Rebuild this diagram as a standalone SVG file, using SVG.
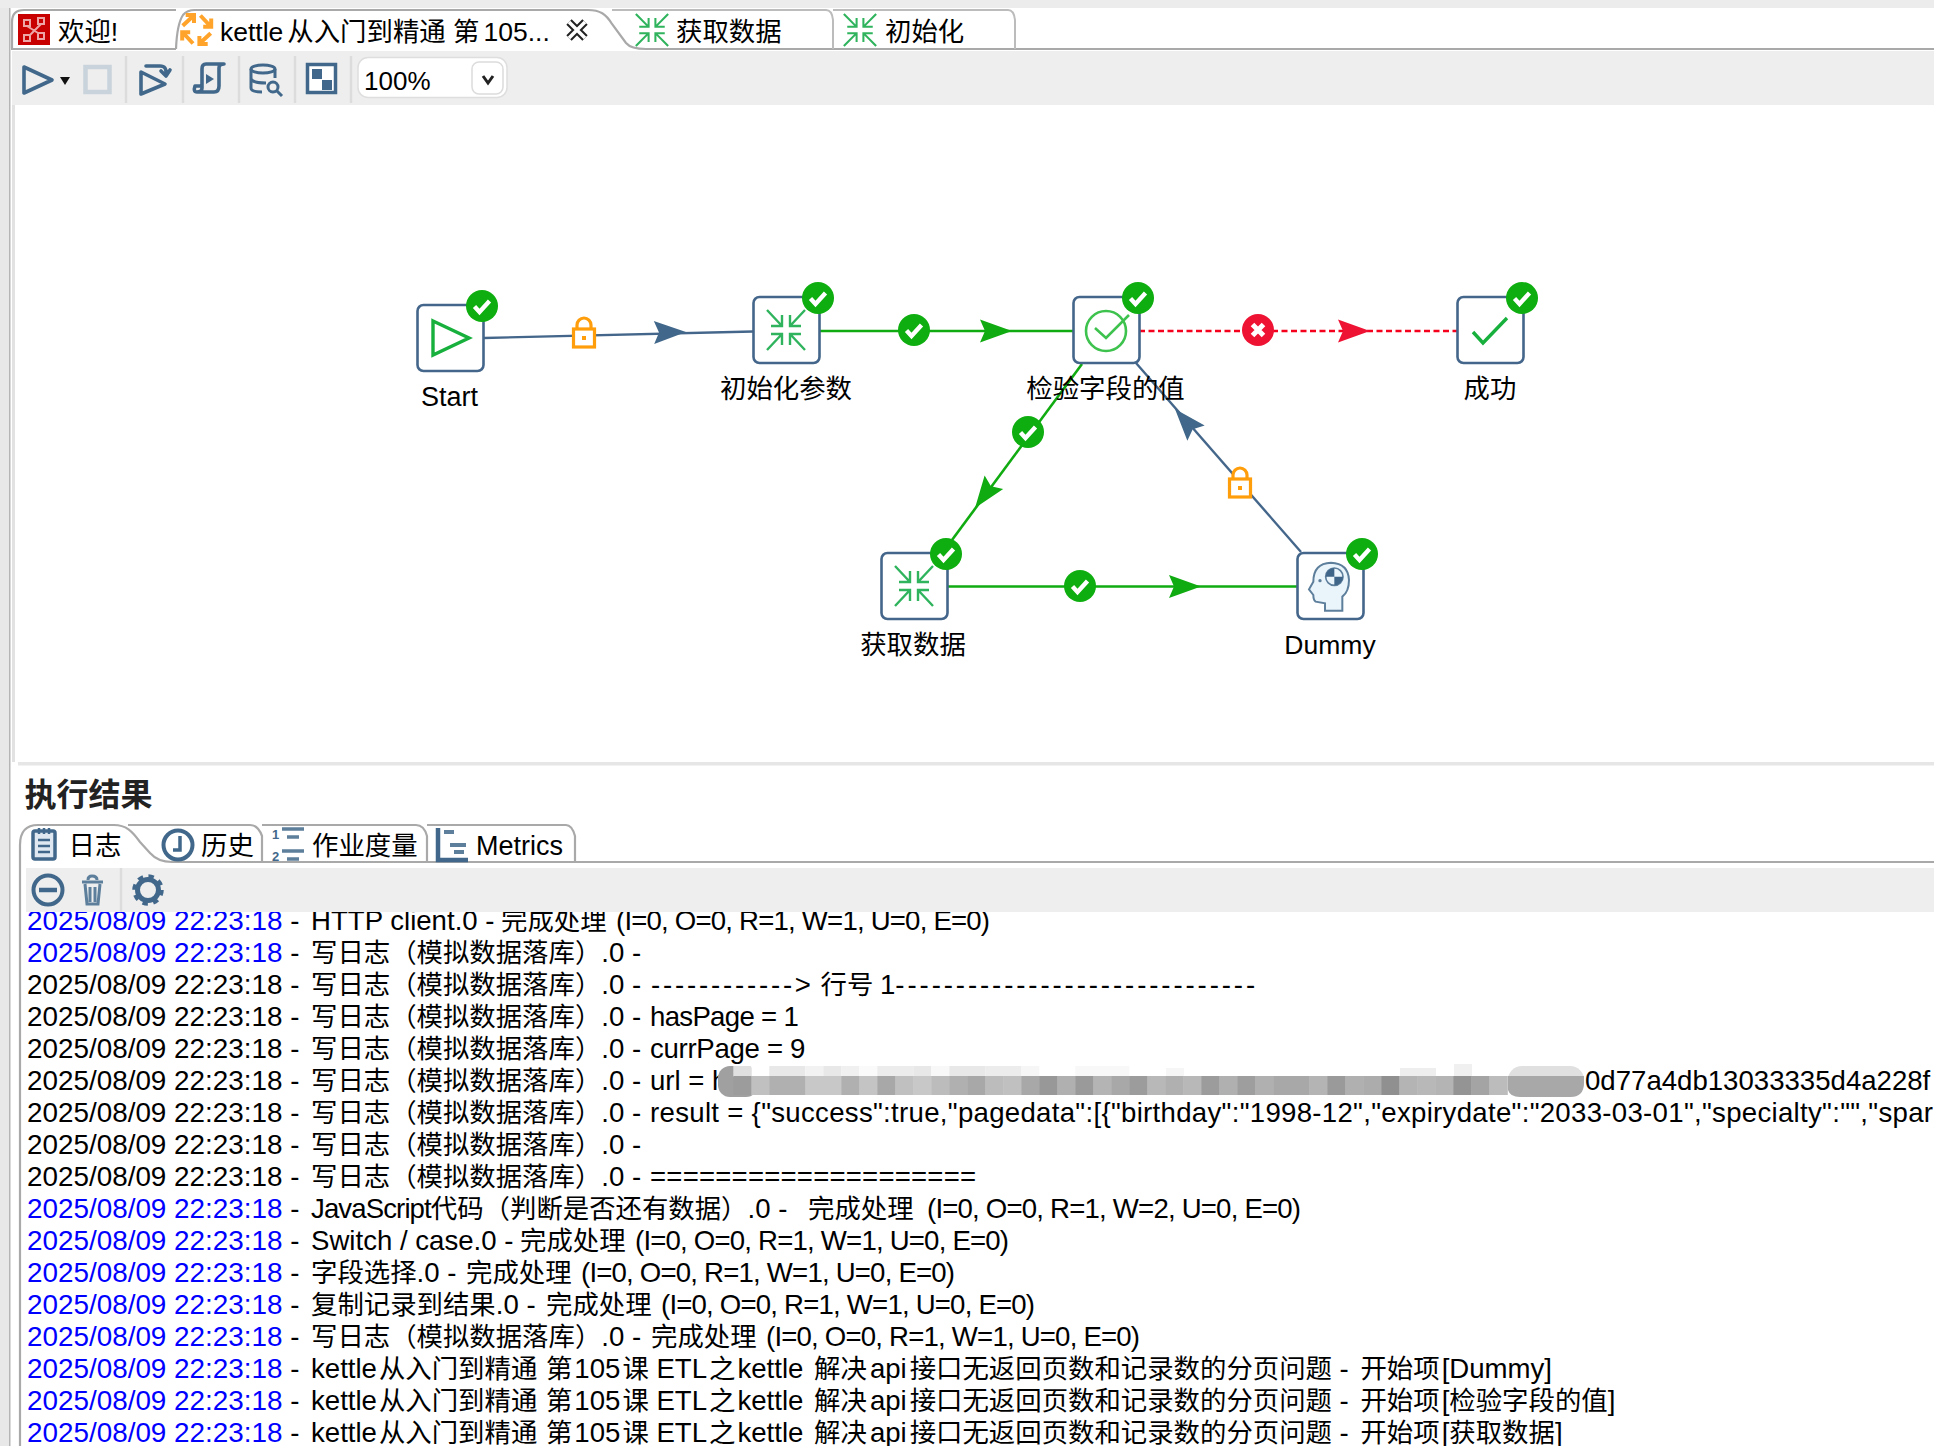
<svg xmlns="http://www.w3.org/2000/svg" width="1934" height="1446" viewBox="0 0 1934 1446">
<style>
text{font-family:"Liberation Sans","Noto Sans CJK SC",sans-serif;fill:#000;white-space:pre}
.c{font-family:"Noto Sans CJK SC","Liberation Sans",sans-serif;font-size:26.4px}
.log{font-size:27.6px}
.t{font-size:27.85px}
.b{fill:#0000ff;font-size:27.85px}
.p{letter-spacing:-0.8px}
.tab{font-size:26.5px}
.lb{font-size:26.4px;text-anchor:middle}
.box{fill:#fff;stroke:#44668a;stroke-width:2.6}
.tb{fill:none;stroke:#41688a;stroke-width:3.6;stroke-linejoin:round;stroke-linecap:round}
.sep{stroke:#dcdcdc;stroke-width:2.5}
.fold{fill:none;stroke:#a9a9a9;stroke-width:2.2}
.lock{fill:#fff;stroke:#ff9d0a;stroke-width:3.2}
.hg{stroke:#10ab10;stroke-width:2.6;fill:none}
.hs{stroke:#44668a;stroke-width:2.4;fill:none}
.hr{stroke:#f5001d;stroke-width:2.6;fill:none;stroke-dasharray:6 3.5}
</style>
<defs>
<g id="ok"><circle r="16" fill="#0fae10"/><path d="M-7.5,0.5 L-2.5,6 L7.5,-5" fill="none" stroke="#fff" stroke-width="4.4"/></g>
<g id="bad"><circle r="16" fill="#ee1233"/><path d="M-5.5,-5.5 L5.5,5.5 M5.5,-5.5 L-5.5,5.5" fill="none" stroke="#fff" stroke-width="5"/></g>
<path id="ah" d="M0,0 L-32,-11.5 L-27,0 L-32,11.5 Z"/>
<g id="lockI"><path class="lock" d="M-7,-7 V-11 A7,7 0 0 1 7,-11 V-7"/><rect class="lock" x="-10.5" y="-7" width="21" height="18"/><rect x="-2" y="0" width="4" height="4" fill="#ff9d0a"/></g>
<g id="arrow4" fill="none" stroke-width="2.400">
<g id="a1"><path d="M-19,-20 L-4,-4 M-4,-15 V-4 H-15"/></g>
<use href="#a1" transform="scale(-1,1)"/><use href="#a1" transform="scale(1,-1)"/><use href="#a1" transform="scale(-1,-1)"/>
</g>
<path id="o1" d="M-14,-3.700 L-3.500,-13.500 M-11,-14.500 H-2.700 V-6.500" fill="none" stroke="#ffa32a" stroke-width="4"/>
</defs>
<rect width="1934" height="1446" fill="#fff"/>

<g id="chrome">
<rect width="1934" height="8" fill="#ececec"/>
<rect x="0" y="8" width="9" height="1438" fill="#e8e8e8"/>
<rect x="9" y="8" width="1.5" height="1438" fill="#b5b5b5"/>
<path d="M12,48 V22 Q12,10 24,10 H176" class="fold"/>
<path d="M11,49 H176" class="fold"/>
<path d="M176,49 Q177,24 183,15 Q187,10 195,10 H588 C600,10 606,14 612,24 L626,43 Q631,49 646,49 H1934" class="fold"/>
<path d="M612,10 H826 Q832,10 833,20 V49 M833,10 H1008 Q1014,10 1015,20 V49" fill="none" stroke="#bcbcbc" stroke-width="2"/>
<rect x="12" y="51" width="1922" height="54" fill="#eeeeee"/>
<rect x="18" y="105" width="1916" height="657" fill="#fff"/>
<rect x="18" y="762" width="1916" height="3.5" fill="#e6e6e6"/>
<rect x="12" y="105" width="3" height="657" fill="#e2e2e2"/>
<line class="sep" x1="126" y1="56" x2="126" y2="103"/><line class="sep" x1="183" y1="56" x2="183" y2="103"/><line class="sep" x1="239" y1="56" x2="239" y2="103"/><line class="sep" x1="295" y1="56" x2="295" y2="103"/><line class="sep" x1="351" y1="56" x2="351" y2="103"/>

<rect x="18" y="14" width="32" height="31" fill="#c90000"/>
<path d="M24,20 H30 V26 H24 Z M38,18 H44 V24 H38 Z M24,35 H30 V41 H24 Z M38,33 H44 V39 H38 Z M27,26 L38,33 M41,24 L30,35" stroke="#eda5a5" stroke-width="2" fill="none"/>
<text class="tab" x="58" y="41"><tspan class="c">欢迎</tspan>!</text>

<g transform="translate(196.700,29.500)">
<use href="#o1"/><use href="#o1" transform="rotate(90)"/><use href="#o1" transform="rotate(180)"/><use href="#o1" transform="rotate(270)"/>
</g>
<text class="tab" x="220" y="41">kettle<tspan class="c" dx="4">从入门到精通</tspan> <tspan class="c">第</tspan><tspan dx="4">105...</tspan></text>
<path d="M569,22 L585,38 M585,22 L569,38" stroke="#222" stroke-width="7.500" fill="none"/>
<path d="M569,22 L585,38 M585,22 L569,38" stroke="#fff" stroke-width="3.500" fill="none"/>
<use href="#arrow4" transform="translate(652,30) scale(.85,.8)" stroke="#2fb35c"/>
<text class="tab" x="676" y="41"><tspan class="c">获取数据</tspan></text>
<use href="#arrow4" transform="translate(860,30) scale(.85,.8)" stroke="#2fb35c"/>
<text class="tab" x="885" y="41"><tspan class="c">初始化</tspan></text>

<path class="tb" d="M24,67 L52,80 L24,93 Z" stroke-width="4"/>
<path d="M60,77 H70 L65,85 Z" fill="#111"/>
<rect x="85.500" y="67" width="24" height="25" fill="none" stroke="#c9d3dc" stroke-width="4.500"/>
<path class="tb" d="M141,72 L165,84 L141,94 Z"/>
<path class="tb" d="M146,66 H160 Q167,66 166,74 M161,71 L166,76 L170,70" stroke-width="2.800"/>
<path class="tb" d="M199,92 H214 Q219,92 219,86 V68 Q219,64 224,64 H206 Q202,64 202,69 V88 Q202,92 197,92 Q193,92 195,86 H200" stroke-width="3"/>
<path d="M206,74 L214,79 L206,84 Z" fill="#41688a"/>
<g fill="none" stroke="#41688a" stroke-width="3">
<ellipse cx="263" cy="69" rx="12" ry="4"/><path d="M251,69 V88 Q251,92 262,92 M275,69 V78 M251,79 Q253,83 266,83"/>
<circle cx="273" cy="87" r="5"/><path d="M277,91 L282,96"/>
</g>
<rect x="307.500" y="64.500" width="28" height="28" fill="#fff" stroke="#41688a" stroke-width="3.500"/>
<rect x="312" y="69" width="10" height="10" fill="#41688a"/><rect x="322" y="80" width="10" height="10" fill="#41688a"/>

<rect x="358" y="57.500" width="149" height="40" rx="10" fill="#fff" stroke="#dedede" stroke-width="1.500"/>
<rect x="472" y="62" width="31" height="32" rx="7" fill="#fff" stroke="#dcdcdc" stroke-width="1.500"/>
<path d="M483,76 L488,83 L493,76" fill="none" stroke="#222" stroke-width="3"/>
<text x="364" y="90" font-size="26">100%</text>
</g>

<g id="connectors">
<path class="hs" d="M484,338 L753,331.500"/>
<use href="#lockI" transform="translate(584,336)"/>
<use href="#ah" transform="translate(686,332) rotate(-1)" fill="#41688a"/>
<path class="hg" d="M819,331 H1073"/>
<use href="#ok" transform="translate(914,330)"/>
<use href="#ah" transform="translate(1012,331)" fill="#10ab10"/>
<path class="hr" d="M1139,331 H1457"/>
<use href="#bad" transform="translate(1258,330)"/>
<use href="#ah" transform="translate(1370,331)" fill="#ee1233"/>
<path class="hg" d="M1082,364 L952,540"/>
<use href="#ok" transform="translate(1028,432)"/>
<use href="#ah" transform="translate(975,508) rotate(126.200)" fill="#10ab10"/>
<path class="hg" d="M947,586.500 H1297"/>
<use href="#ok" transform="translate(1080,586)"/>
<use href="#ah" transform="translate(1201,586.500)" fill="#10ab10"/>
<path class="hs" d="M1301,552 L1136,363"/>
<use href="#lockI" transform="translate(1240,486)"/>
<use href="#ah" transform="translate(1175,409) rotate(228.900)" fill="#41688a"/>
</g>

<g id="node-start">
<rect class="box" x="417.500" y="305" width="66" height="66" rx="6"/>
<path d="M433,321 L469,338 L433,355 Z" fill="none" stroke="#17b03c" stroke-width="3.400"/>
<use href="#ok" transform="translate(482,306)"/>
<text x="449.500" y="406" text-anchor="middle" font-size="27">Start</text>
</g>
<g id="node-init">
<rect class="box" x="753.500" y="297" width="66" height="66" rx="6"/>
<use href="#arrow4" transform="translate(786,330)" stroke="#2fb35c"/>
<use href="#ok" transform="translate(818,298)"/>
<text class="lb c" x="786" y="398">初始化参数</text>
</g>
<g id="node-check">
<rect class="box" x="1073.500" y="297" width="66" height="66" rx="6"/>
<circle cx="1106" cy="331" r="20" fill="none" stroke="#3ec24e" stroke-width="2.600"/>
<path d="M1095,328 L1106,338 L1129,315" fill="none" stroke="#3ec24e" stroke-width="2.600"/>
<use href="#ok" transform="translate(1138,298)"/>
<text class="lb c" x="1105.500" y="398">检验字段的值</text>
</g>
<g id="node-success">
<rect class="box" x="1457.500" y="297" width="66" height="66" rx="6"/>
<path d="M1473,332 L1483,343 L1507,318" fill="none" stroke="#17b03c" stroke-width="3.400"/>
<use href="#ok" transform="translate(1522,298)"/>
<text class="lb c" x="1490" y="398">成功</text>
</g>
<g id="node-get">
<rect class="box" x="881.500" y="553" width="66" height="66" rx="6"/>
<use href="#arrow4" transform="translate(914,586)" stroke="#2fb35c"/>
<use href="#ok" transform="translate(946,554)"/>
<text class="lb c" x="913" y="654">获取数据</text>
</g>
<g id="node-dummy">
<rect class="box" x="1297.500" y="553" width="66" height="66" rx="6"/>
<g transform="translate(1295,550) scale(.3333)">
<path d="M90,182 V160 L62,155 Q55,150 55,135 L42,118 L55,95 Q55,40 108,38 Q160,40 162,90 Q162,125 142,140 V182 Z" fill="#eaf4fb" stroke="#5d7f9c" stroke-width="6"/>
<circle cx="118" cy="80" r="26" fill="#eaf4fb" stroke="#5d7f9c" stroke-width="5"/>
<path d="M118,80 V54 A26,26 0 0 0 92,80 Z M118,80 V106 A26,26 0 0 0 144,80 Z" fill="#3f6588"/>
<circle cx="75" cy="92" r="5" fill="#5d7f9c"/>
</g>
<use href="#ok" transform="translate(1362,554)"/>
<text x="1330" y="654" text-anchor="middle" font-size="26.500">Dummy</text>
</g>

<g id="log">
<text class="log" x="27" y="930"><tspan class="b">2025/08/09 22:23:18</tspan> - <tspan x="311">HTTP client.0</tspan> - <tspan class="c" x="501">完成处理</tspan><tspan class="p" x="616">(I=0, O=0, R=1, W=1, U=0, E=0)</tspan></text>
<text class="log" x="27" y="962"><tspan class="b">2025/08/09 22:23:18</tspan> - <tspan class="c" x="311">写日志（模拟数据落库）</tspan>.0 -</text>
<text class="log" x="27" y="994"><tspan class="t">2025/08/09 22:23:18</tspan> - <tspan class="c" x="311">写日志（模拟数据落库）</tspan>.0 - <tspan x="651" letter-spacing="2.800">------------&gt;</tspan> <tspan class="c" x="820.500">行号</tspan> <tspan x="880">1</tspan><tspan letter-spacing="2.900">------------------------------</tspan></text>
<text class="log" x="27" y="1026"><tspan class="t">2025/08/09 22:23:18</tspan> - <tspan class="c" x="311">写日志（模拟数据落库）</tspan>.0 - <tspan x="650" letter-spacing="-.7">hasPage = 1</tspan></text>
<text class="log" x="27" y="1058"><tspan class="t">2025/08/09 22:23:18</tspan> - <tspan class="c" x="311">写日志（模拟数据落库）</tspan>.0 - <tspan x="650" letter-spacing="-.3">currPage = 9</tspan></text>
<text class="log" x="27" y="1090"><tspan class="t">2025/08/09 22:23:18</tspan> - <tspan class="c" x="311">写日志（模拟数据落库）</tspan>.0 - <tspan x="650">url = h</tspan></text>
<text class="log" x="27" y="1122"><tspan class="t">2025/08/09 22:23:18</tspan> - <tspan class="c" x="311">写日志（模拟数据落库）</tspan>.0 - <tspan x="650" letter-spacing=".3">result = {"success":true,"pagedata":[{"birthday":"1998-12","expirydate":"2033-03-01","specialty":"","spar</tspan></text>
<text class="log" x="27" y="1154"><tspan class="t">2025/08/09 22:23:18</tspan> - <tspan class="c" x="311">写日志（模拟数据落库）</tspan>.0 -</text>
<text class="log" x="27" y="1186"><tspan class="t">2025/08/09 22:23:18</tspan> - <tspan class="c" x="311">写日志（模拟数据落库）</tspan>.0 - <tspan x="650" letter-spacing=".2">====================</tspan></text>
<text class="log" x="27" y="1218"><tspan class="b">2025/08/09 22:23:18</tspan> - <tspan x="311" letter-spacing="-.9">JavaScript</tspan><tspan class="c">代码（判断是否还有数据）</tspan>.0 - <tspan class="c" x="808">完成处理</tspan><tspan class="p" x="927">(I=0, O=0, R=1, W=2, U=0, E=0)</tspan></text>
<text class="log" x="27" y="1250"><tspan class="b">2025/08/09 22:23:18</tspan> - <tspan x="311">Switch / case.0</tspan> - <tspan class="c" x="520">完成处理</tspan><tspan class="p" x="635">(I=0, O=0, R=1, W=1, U=0, E=0)</tspan></text>
<text class="log" x="27" y="1282"><tspan class="b">2025/08/09 22:23:18</tspan> - <tspan class="c" x="311">字段选择</tspan>.0 - <tspan class="c" x="466">完成处理</tspan><tspan class="p" x="581">(I=0, O=0, R=1, W=1, U=0, E=0)</tspan></text>
<text class="log" x="27" y="1314"><tspan class="b">2025/08/09 22:23:18</tspan> - <tspan class="c" x="311">复制记录到结果</tspan>.0 - <tspan class="c" x="546">完成处理</tspan><tspan class="p" x="661">(I=0, O=0, R=1, W=1, U=0, E=0)</tspan></text>
<text class="log" x="27" y="1346"><tspan class="b">2025/08/09 22:23:18</tspan> - <tspan class="c" x="311">写日志（模拟数据落库）</tspan>.0 - <tspan class="c" x="651">完成处理</tspan><tspan class="p" x="766">(I=0, O=0, R=1, W=1, U=0, E=0)</tspan></text>
<text class="log" x="27" y="1378"><tspan class="b">2025/08/09 22:23:18</tspan> - <tspan x="311">kettle</tspan><tspan class="c" dx="2">从入门到精通</tspan> <tspan class="c" dx="1">第</tspan><tspan dx="2">105</tspan><tspan class="c" dx="2">课</tspan> ETL<tspan class="c" dx="2">之</tspan><tspan dx="2">kettle</tspan> <tspan class="c" dx="3">解决</tspan><tspan dx="3">api</tspan><tspan class="c" dx="3">接口无返回页数和记录数的分页问题</tspan> - <tspan class="c" dx="4">开始项</tspan><tspan dx="2">[Dummy]</tspan></text>
<text class="log" x="27" y="1410"><tspan class="b">2025/08/09 22:23:18</tspan> - <tspan x="311">kettle</tspan><tspan class="c" dx="2">从入门到精通</tspan> <tspan class="c" dx="1">第</tspan><tspan dx="2">105</tspan><tspan class="c" dx="2">课</tspan> ETL<tspan class="c" dx="2">之</tspan><tspan dx="2">kettle</tspan> <tspan class="c" dx="3">解决</tspan><tspan dx="3">api</tspan><tspan class="c" dx="3">接口无返回页数和记录数的分页问题</tspan> - <tspan class="c" dx="4">开始项</tspan><tspan dx="2">[</tspan><tspan class="c">检验字段的值</tspan>]</text>
<text class="log" x="27" y="1442"><tspan class="b">2025/08/09 22:23:18</tspan> - <tspan x="311">kettle</tspan><tspan class="c" dx="2">从入门到精通</tspan> <tspan class="c" dx="1">第</tspan><tspan dx="2">105</tspan><tspan class="c" dx="2">课</tspan> ETL<tspan class="c" dx="2">之</tspan><tspan dx="2">kettle</tspan> <tspan class="c" dx="3">解决</tspan><tspan dx="3">api</tspan><tspan class="c" dx="3">接口无返回页数和记录数的分页问题</tspan> - <tspan class="c" dx="4">开始项</tspan><tspan dx="2">[</tspan><tspan class="c">获取数据</tspan>]</text>
<text class="log" x="1585" y="1090">0d77a4db13033335d4a228f</text>
</g>

<g id="results-panel">
<text x="24.500" y="806" font-size="32" font-weight="700" style="font-family:'Noto Sans CJK SC',sans-serif;fill:#222">执行结果</text>
<path class="fold" d="M20,1446 V845 Q20,825 38,825 H114 C126,825 132,831 140,842 L150,853 Q158,862 172,862 H1934"/>
<path class="fold" d="M128,825 H250 Q258,825 262,836 V862 M262,825 H416 Q424,825 427,836 V862 M427,825 H566 Q572,825 575,836 V862" stroke="#bababa" stroke-width="2"/>
<rect x="26" y="868" width="1908" height="44" fill="#eeeeee"/>
<line class="sep" x1="121" y1="868" x2="121" y2="912"/>

<g fill="none" stroke="#41688a" stroke-width="3.500">
<rect x="33" y="831" width="22" height="28" rx="2" fill="#dfe8f0"/><path d="M39,828 V834 M44,828 V834 M49,828 V834 M38,840 H50 M38,846 H50 M38,852 H50" stroke-width="2.500"/>
<circle cx="178" cy="845" r="14.500" stroke-width="4"/><path d="M180,836 V850 H173"/>
<path d="M282,829 H304 M287,837 H299 M282,851 H304 M287,859 H299" stroke-width="3.500" stroke="#5d7f9c"/>
<path d="M438,828 V860 H468" stroke-width="4.500"/><path d="M444,832 H454 M450,845 H466 M454,852 H464" stroke-width="4" stroke="#5d7f9c"/>
<circle cx="48" cy="890" r="14.500" stroke-width="4"/><path d="M39,890 H57" stroke-width="4.500"/>
<path d="M82,882 H103 M88,880 Q88,876 92,876 Q97,876 97,880 M85,884 L87,904 H98 L100,884 M90,887 V902 M95,887 V902" stroke-width="3" stroke="#5d7f9c"/>
<circle cx="148" cy="890" r="10.500" stroke-width="5"/><circle cx="148" cy="890" r="14" stroke-width="3.500" stroke-dasharray="5.500 5.500"/>
</g>
<text x="272" y="839" font-size="13" style="fill:#41688a" font-weight="700">1</text>
<text x="272" y="861" font-size="13" style="fill:#41688a" font-weight="700">2</text>

<text class="tab" x="68.500" y="855"><tspan class="c">日志</tspan></text>
<text class="tab" x="201" y="855"><tspan class="c">历史</tspan></text>
<text class="tab" x="312" y="855"><tspan class="c">作业度量</tspan></text>
<text x="476" y="855" font-size="27">Metrics</text>
</g>

<g id="mosaic">
<rect x="718" y="1066" width="40" height="31" rx="12" fill="#a0a0a0"/>
<g>
<rect x="733.300" y="1066" width="18" height="11" fill="#e0e0e0"/><rect x="751.300" y="1066" width="18" height="11" fill="#fff"/><rect x="769.300" y="1066" width="36" height="11" fill="#e8e8e8"/><rect x="805.300" y="1066" width="18" height="11" fill="#f2f2f2"/><rect x="823.300" y="1066" width="18" height="11" fill="#e8e8e8"/><rect x="841.300" y="1066" width="18" height="11" fill="#f0f0f0"/><rect x="859.300" y="1066" width="18" height="11" fill="#fafafa"/><rect x="877.300" y="1066" width="36" height="11" fill="#ececec"/><rect x="913.300" y="1066" width="18" height="11" fill="#e8e8e8"/><rect x="931.300" y="1066" width="18" height="11" fill="#f8f8f8"/><rect x="949.300" y="1066" width="36" height="11" fill="#e8e8e8"/><rect x="985.300" y="1066" width="36" height="11" fill="#ececec"/><rect x="1021.300" y="1066" width="18" height="11" fill="#f6f6f6"/><rect x="1075.300" y="1066" width="54" height="11" fill="#f8f8f8"/><rect x="1400" y="1068" width="36" height="9" fill="#eeeeee"/><rect x="1454" y="1064" width="18" height="13" fill="#f0f0f0"/><rect x="1166" y="1068" width="18" height="9" fill="#f6f6f6"/>
</g>
<rect x="733.300" y="1076" width="18.500" height="19" fill="#9c9c9c"/><rect x="751.300" y="1076" width="18.500" height="19" fill="#c0c0c0"/><rect x="769.300" y="1076" width="36.500" height="19" fill="#b0b0b0"/><rect x="805.300" y="1076" width="36.500" height="19" fill="#c8c8c8"/><rect x="841.300" y="1076" width="18.500" height="19" fill="#b0b0b0"/><rect x="859.300" y="1076" width="18.500" height="19" fill="#c4c4c4"/><rect x="877.300" y="1076" width="18.500" height="19" fill="#a8a8a8"/><rect x="895.300" y="1076" width="18.500" height="19" fill="#c0c0c0"/><rect x="913.300" y="1076" width="18.500" height="19" fill="#c8c8c8"/><rect x="931.300" y="1076" width="18.500" height="19" fill="#bcbcbc"/><rect x="949.300" y="1076" width="18.500" height="19" fill="#b0b0b0"/><rect x="967.300" y="1076" width="18.500" height="19" fill="#a8a8a8"/><rect x="985.300" y="1076" width="18.500" height="19" fill="#bcbcbc"/><rect x="1003.300" y="1076" width="18.500" height="19" fill="#c0c0c0"/><rect x="1021.300" y="1076" width="18.500" height="19" fill="#a8a8a8"/><rect x="1039.300" y="1076" width="18.500" height="19" fill="#989898"/><rect x="1057.300" y="1076" width="18.500" height="19" fill="#b0b0b0"/><rect x="1075.300" y="1076" width="18.500" height="19" fill="#9a9a9a"/><rect x="1093.300" y="1076" width="18.500" height="19" fill="#b4b4b4"/><rect x="1111.300" y="1076" width="18.500" height="19" fill="#a8a8a8"/><rect x="1129.300" y="1076" width="18.500" height="19" fill="#9c9c9c"/><rect x="1147.300" y="1076" width="18.500" height="19" fill="#b8b8b8"/><rect x="1165.300" y="1076" width="18.500" height="19" fill="#b0b0b0"/><rect x="1183.300" y="1076" width="18.500" height="19" fill="#b8b8b8"/><rect x="1201.300" y="1076" width="18.500" height="19" fill="#9c9c9c"/><rect x="1219.300" y="1076" width="18.500" height="19" fill="#b0b0b0"/><rect x="1237.300" y="1076" width="18.500" height="19" fill="#9e9e9e"/><rect x="1255.300" y="1076" width="18.500" height="19" fill="#b0b0b0"/><rect x="1273.300" y="1076" width="36.500" height="19" fill="#a8a8a8"/><rect x="1309.300" y="1076" width="18.500" height="19" fill="#b4b4b4"/><rect x="1327.300" y="1076" width="18.500" height="19" fill="#9a9a9a"/><rect x="1345.300" y="1076" width="18.500" height="19" fill="#b0b0b0"/><rect x="1363.300" y="1076" width="18.500" height="19" fill="#acacac"/><rect x="1381.300" y="1076" width="18.500" height="19" fill="#909090"/><rect x="1399.300" y="1076" width="18.500" height="19" fill="#b4b4b4"/><rect x="1417.300" y="1076" width="18.500" height="19" fill="#b8b8b8"/><rect x="1435.300" y="1076" width="18.500" height="19" fill="#b4b4b4"/><rect x="1453.300" y="1076" width="18.500" height="19" fill="#949494"/><rect x="1471.300" y="1076" width="18.500" height="19" fill="#a4a4a4"/><rect x="1489.300" y="1076" width="18.500" height="19" fill="#bcbcbc"/>
<rect x="1508" y="1066" width="76" height="31" rx="14" fill="#e0e0e0"/>
<path d="M1508,1076 H1584 V1083 Q1584,1097 1570,1097 H1520 Q1510,1097 1508,1090 Z" fill="#a8a8a8"/>
</g>
</svg>
